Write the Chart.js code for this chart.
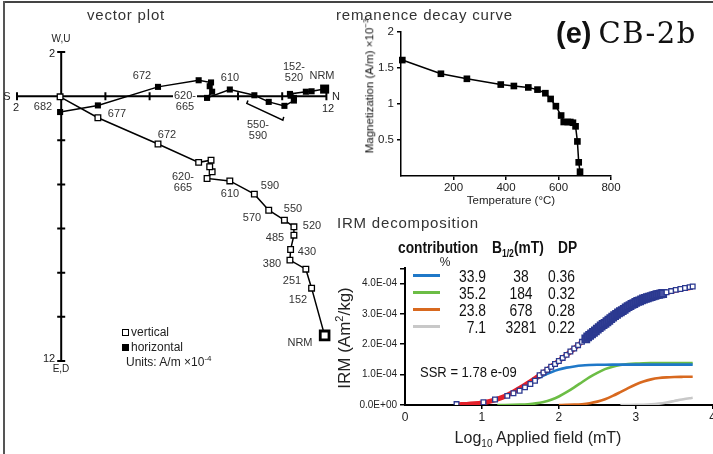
<!DOCTYPE html>
<html lang="en">
<head>
<meta charset="UTF-8">
<title>CB-2b - vector plot, remanence decay, IRM decomposition</title>
<script src="https://cdn.jsdelivr.net/npm/chart.js"></script>
<style>
    body {
        margin: 0;
        width: 713px;
        height: 454px;
        overflow: hidden;
        position: relative;
        background: #fff;
        font-family: 'Liberation Sans', Arial, sans-serif;
        color: #222;
    }
    sub, sup { line-height: 0; }
    .frame-top { position: absolute; left: 3px; top: 1px; width: 720px; height: 2px; background: #444; }
    .frame-left { position: absolute; left: 3px; top: 1px; width: 2px; height: 460px; background: #555; }
    canvas { position: absolute; }
    .t { position: absolute; white-space: nowrap; line-height: 1; transform: translate(-50%, -50%); }
    .title { position: absolute; font-size: 15px; letter-spacing: 0.8px; color: #333; white-space: nowrap; line-height: 1; transform: translateY(-50%); }
    .vl { font-size: 11px; color: #333; text-align: center; line-height: 11px; }
    .ax { font-size: 11px; color: #222; }
    .bg { background: #fff; padding: 0 1px; }
    .leg { position: absolute; font-size: 12px; color: #222; white-space: nowrap; line-height: 1; transform: translateY(-50%); }
    .sq { display: inline-block; width: 5px; height: 5px; border: 1.3px solid #000; vertical-align: middle; margin-right: 2px; }
    /* condensed text for the IRM table: squeeze horizontally */
    .row { position: absolute; font-size: 16.5px; color: #111; line-height: 1; white-space: nowrap;
           transform: translateY(-50%) scaleX(0.84); transform-origin: left center; }
    .row.r { transform-origin: right center; text-align: right; }
    .row.c { transform-origin: center center; text-align: center; }
    .hd { font-weight: bold; font-size: 16px; transform: translateY(-50%) scaleX(0.86); }
    .swatch { position: absolute; width: 27px; height: 3px; }
</style>
</head>
<body>
<div class="frame-top"></div>
<div class="frame-left"></div>

<canvas id="vector" width="345" height="380" style="left:0;top:0"></canvas>
<canvas id="decay" width="300" height="210" style="left:330px;top:0"></canvas>
<canvas id="irm" width="400" height="225" style="left:330px;top:200px"></canvas>

<!-- panel titles -->
<div class="title" style="left:87px;top:14px">vector plot</div>
<div class="title" style="left:336px;top:14px">remanence decay curve</div>
<div class="title" style="left:337px;top:222px">IRM decomposition</div>
<div style="position:absolute;left:556px;top:33px;transform:translateY(-50%);white-space:nowrap;line-height:1;color:#111">
    <span style="font-family:'Liberation Sans',Arial,sans-serif;font-weight:bold;font-size:29px">(e)</span><span style="font-family:'DejaVu Serif',serif;font-size:29px;letter-spacing:1.5px;margin-left:7px">CB-2b</span>
</div>

<!-- vector plot axis labels -->
<div class="t ax" style="left:7px;top:96px">S</div>
<div class="t ax" style="left:16px;top:107px">2</div>
<div class="t ax" style="left:336px;top:96px">N</div>
<div class="t ax bg" style="left:328px;top:108px">12</div>
<div class="t ax" style="left:61px;top:39px;font-size:10px">W,U</div>
<div class="t ax" style="left:52px;top:53px">2</div>
<div class="t ax" style="left:49px;top:358px">12</div>
<div class="t ax" style="left:61px;top:369px;font-size:10px">E,D</div>

<!-- vector plot step labels -->
<div class="t vl" style="left:43px;top:106px">682</div>
<div class="t vl" style="left:117px;top:113px">677</div>
<div class="t vl" style="left:142px;top:75px">672</div>
<div class="t vl" style="left:167px;top:134px">672</div>
<div class="t vl" style="left:230px;top:77px">610</div>
<div class="t vl bg" style="left:185px;top:101px">620-<br>665</div>
<div class="t vl" style="left:294px;top:72px">152-<br>520</div>
<div class="t vl" style="left:322px;top:75px">NRM</div>
<div class="t vl" style="left:258px;top:130px">550-<br>590</div>
<div class="t vl" style="left:183px;top:182px">620-<br>665</div>
<div class="t vl" style="left:230px;top:193px">610</div>
<div class="t vl" style="left:270px;top:185px">590</div>
<div class="t vl" style="left:252px;top:217px">570</div>
<div class="t vl" style="left:293px;top:208px">550</div>
<div class="t vl" style="left:312px;top:225px">520</div>
<div class="t vl" style="left:275px;top:237px">485</div>
<div class="t vl" style="left:307px;top:251px">430</div>
<div class="t vl" style="left:272px;top:263px">380</div>
<div class="t vl" style="left:292px;top:280px">251</div>
<div class="t vl" style="left:298px;top:299px">152</div>
<div class="t vl" style="left:300px;top:342px">NRM</div>

<!-- vector plot legend -->
<div class="leg" style="left:122px;top:332px"><span class="sq" style="background:#fff"></span>vertical</div>
<div class="leg" style="left:122px;top:347px"><span class="sq" style="background:#000"></span>horizontal</div>
<div class="leg" style="left:126px;top:362px">Units: A/m ×10<sup style="font-size:8px">-4</sup></div>

<!-- remanence decay axis titles -->
<div class="t" style="left:370px;top:86px;font-size:11.5px;color:#111;transform:translate(-50%,-50%) rotate(-90deg)">Magnetization (A/m) ×10<sup style="font-size:8px">−3</sup></div>
<div class="t" style="left:511px;top:201px;font-size:11.5px">Temperature (°C)</div>

<!-- IRM legend / header -->
<div class="row hd" style="left:398px;top:248px">contribution</div>
<div class="row hd" style="left:492px;top:248px">B<sub style="font-size:10px">1/2</sub>(mT)</div>
<div class="row hd" style="left:558px;top:248px">DP</div>
<div class="t" style="left:445px;top:262px;font-size:12px">%</div>

<div class="swatch" style="left:413px;top:274px;background:#1f78c8"></div>
<div class="swatch" style="left:413px;top:291px;background:#6cbd45"></div>
<div class="swatch" style="left:413px;top:308px;background:#d8691f"></div>
<div class="swatch" style="left:413px;top:325px;background:#c8c8c8"></div>

<div class="row r" style="left:436px;top:276px;width:50px">33.9</div>
<div class="row r" style="left:436px;top:293px;width:50px">35.2</div>
<div class="row r" style="left:436px;top:310px;width:50px">23.8</div>
<div class="row r" style="left:436px;top:327px;width:50px">7.1</div>
<div class="row c" style="left:496px;top:276px;width:50px">38</div>
<div class="row c" style="left:496px;top:293px;width:50px">184</div>
<div class="row c" style="left:496px;top:310px;width:50px">678</div>
<div class="row c" style="left:496px;top:327px;width:50px">3281</div>
<div class="row" style="left:548px;top:276px">0.36</div>
<div class="row" style="left:548px;top:293px">0.32</div>
<div class="row" style="left:548px;top:310px">0.28</div>
<div class="row" style="left:548px;top:327px">0.22</div>

<div class="row" style="left:420px;top:372px;font-size:15.5px">SSR = 1.78 e-09</div>

<!-- IRM axis titles -->
<div class="t" style="left:344px;top:338px;font-size:17px;transform:translate(-50%,-50%) rotate(-90deg)">IRM (Am<sup style="font-size:11px">2</sup>/kg)</div>
<div class="t" style="left:538px;top:438px;font-size:16px">Log<sub style="font-size:10px">10</sub> Applied field (mT)</div>

<script>
    // ---------- vector plot (A/m x1e-4), one entry per demag step ----------
    const stepNames = ['NRM', '152', '251', '380', '430', '485', '520', '550', '570', '590',
                       '610', '620', '635', '645', '655', '665', '672', '677', '682'];
    const northComp = [11.92, 11.33, 11.07, 10.35, 10.38, 10.53, 10.53, 10.10, 9.39, 8.74,
                       7.63, 6.60, 6.83, 6.72, 6.78, 6.22, 4.38, 1.66, -0.05];
    const horizComp = [0.32, 0.22, 0.20, 0.10, 0.02, -0.08, -0.20, -0.44, -0.26, 0.04,
                       0.30, -0.08, 0.20, 0.45, 0.62, 0.72, 0.42, -0.42, -0.72];
    const vertComp  = [-10.84, -8.70, -7.84, -7.43, -6.95, -6.30, -5.92, -5.62, -5.17, -4.44,
                       -3.84, -3.73, -3.43, -3.20, -2.90, -3.00, -2.17, -0.98, -0.03];
    const hAxisTicks = [-2, 2, 4, 6, 8, 10, 12];
    const vAxisTicks = [2, -2, -4, -6, -8, -10, -12];

    // ---------- remanence decay (A/m x1e-3) ----------
    const demagTemps = [5, 152, 251, 380, 430, 485, 520, 550, 570, 590,
                        610, 620, 635, 645, 655, 665, 672, 677, 682];
    const magnetization = [1.61, 1.42, 1.35, 1.27, 1.25, 1.23, 1.20, 1.15, 1.07, 0.97,
                           0.84, 0.75, 0.75, 0.75, 0.74, 0.69, 0.48, 0.19, 0.06];

    // ---------- IRM acquisition (Am2/kg x1e-4) ----------
    const irmField = [0.67, 1.02, 1.17, 1.33, 1.41, 1.49, 1.56, 1.63, 1.69,
        1.75, 1.80, 1.85, 1.90, 1.95, 2.00, 2.05, 2.10, 2.15, 2.20, 2.25, 2.30, 2.35,
        2.375, 2.40, 2.425, 2.45, 2.475, 2.50, 2.525, 2.55, 2.575, 2.60, 2.625, 2.65, 2.675, 2.70,
        2.725, 2.75, 2.775, 2.80, 2.825, 2.85, 2.875, 2.90, 2.925, 2.95, 2.975, 3.00, 3.025, 3.05,
        3.075, 3.10, 3.125, 3.15, 3.175, 3.20, 3.225, 3.25, 3.275, 3.30, 3.325, 3.35,
        3.40, 3.46, 3.52, 3.58, 3.64, 3.70, 3.74];
    const irmMeasured = [0.03, 0.09, 0.18, 0.30, 0.385, 0.47, 0.58, 0.69, 0.80,
        0.98, 1.07, 1.16, 1.26, 1.35, 1.45, 1.55, 1.65, 1.76, 1.86, 1.97, 2.08, 2.18,
        2.24, 2.29, 2.34, 2.39, 2.44, 2.50, 2.55, 2.60, 2.65, 2.69, 2.74, 2.79, 2.84, 2.89,
        2.94, 2.98, 3.03, 3.07, 3.11, 3.15, 3.20, 3.24, 3.27, 3.31, 3.34, 3.38, 3.41, 3.43,
        3.46, 3.49, 3.51, 3.53, 3.55, 3.57, 3.59, 3.61, 3.63, 3.64, 3.66, 3.67,
        3.71, 3.75, 3.79, 3.82, 3.85, 3.88, 3.90];

    const fitField = [0.7, 0.8, 0.9, 1.0, 1.1, 1.2, 1.3, 1.4, 1.5, 1.6, 1.7, 1.8, 1.9, 2.0, 2.1, 2.2,
                      2.3, 2.4, 2.5, 2.6, 2.7, 2.8, 2.9, 3.0, 3.1, 3.2, 3.3, 3.4, 3.5, 3.6, 3.7, 3.74];
    const fitTotal = [0.01, 0.02, 0.04, 0.07, 0.12, 0.195, 0.29, 0.415, 0.56, 0.72, 0.89, 1.07, 1.26, 1.45, 1.65, 1.86,
                      2.08, 2.29, 2.50, 2.69, 2.89, 3.07, 3.24, 3.38, 3.49, 3.57, 3.64, 3.70, 3.76, 3.82, 3.86, 3.88];
    const comp1 = [0.01, 0.02, 0.04, 0.07, 0.12, 0.19, 0.29, 0.41, 0.55, 0.69, 0.84, 0.97, 1.08, 1.17, 1.23, 1.27,
                   1.30, 1.315, 1.323, 1.327, 1.329, 1.33, 1.33, 1.33, 1.33, 1.33, 1.33, 1.33, 1.33, 1.33, 1.33, 1.33];
    const comp2 = [null, null, null, null, null, 0.001, 0.002, 0.005, 0.012, 0.026, 0.053, 0.10, 0.175, 0.28, 0.42, 0.58,
                   0.75, 0.92, 1.06, 1.18, 1.26, 1.315, 1.347, 1.365, 1.374, 1.378, 1.38, 1.38, 1.38, 1.38, 1.38, 1.38];
    const comp3 = [null, null, null, null, null, null, null, null, null, null, null, null, null, 0.001, 0.004, 0.011,
                   0.027, 0.058, 0.111, 0.191, 0.299, 0.425, 0.557, 0.677, 0.774, 0.843, 0.887, 0.91, 0.922, 0.927, 0.93, 0.93];
    const comp4 = [null, null, null, null, null, null, null, null, null, null, null, null, null, null, null, null,
                   null, null, null, null, null, 0, 0.001, 0.003, 0.008, 0.021, 0.046, 0.084, 0.132, 0.182, 0.224, 0.237];
    const compColors = ['#1f78c8', '#6cbd45', '#d8691f', '#c8c8c8'];

    const pairs = (xs, ys) => xs.map((x, i) => ({ x: x, y: ys[i] })).filter(p => p.y !== null);

    // axes through the origin + bracket, drawn with the chart's own scales
    const crossAxes = {
        id: 'crossAxes',
        beforeDatasetsDraw(chart) {
            const { ctx, scales: { x, y } } = chart;
            const x0 = x.getPixelForValue(0), y0 = y.getPixelForValue(0);
            ctx.save();
            ctx.strokeStyle = '#000';
            ctx.lineWidth = 2;
            ctx.beginPath();
            ctx.moveTo(x.getPixelForValue(hAxisTicks[0]), y0);
            ctx.lineTo(x.getPixelForValue(hAxisTicks[hAxisTicks.length - 1]), y0);
            ctx.moveTo(x0, y.getPixelForValue(vAxisTicks[0]));
            ctx.lineTo(x0, y.getPixelForValue(vAxisTicks[vAxisTicks.length - 1]));
            hAxisTicks.forEach(v => {
                const px = x.getPixelForValue(v);
                ctx.moveTo(px, y0 - 4); ctx.lineTo(px, y0 + 4);
            });
            vAxisTicks.forEach(v => {
                const py = y.getPixelForValue(v);
                ctx.moveTo(x0 - 4, py); ctx.lineTo(x0 + 4, py);
            });
            ctx.stroke();

            // bracket under the 550-590 horizontal steps
            ctx.lineWidth = 1.5;
            ctx.beginPath();
            ctx.moveTo(x.getPixelForValue(8.45), y.getPixelForValue(-0.2));
            ctx.lineTo(x.getPixelForValue(8.40), y.getPixelForValue(-0.33));
            ctx.lineTo(x.getPixelForValue(10.03), y.getPixelForValue(-1.09));
            ctx.lineTo(x.getPixelForValue(10.07), y.getPixelForValue(-0.94));
            ctx.stroke();
            ctx.restore();
        }
    };

    new Chart(document.getElementById('vector'), {
        type: 'scatter',
        data: {
            labels: stepNames,
            datasets: [{
                label: 'horizontal',
                data: pairs(northComp, horizComp),
                showLine: true,
                borderColor: '#000',
                borderWidth: 1.5,
                pointStyle: 'rect',
                pointRadius: c => c.dataIndex === 0 ? 6.4 : 4.3,
                pointBackgroundColor: '#000',
                pointBorderColor: '#000',
                pointBorderWidth: 0,
                clip: false
            }, {
                label: 'vertical',
                data: pairs(northComp, vertComp),
                showLine: true,
                borderColor: '#000',
                borderWidth: 1.5,
                pointStyle: 'rect',
                pointRadius: c => c.dataIndex === 0 ? 6.2 : 4,
                pointBackgroundColor: '#fff',
                pointBorderColor: '#000',
                pointBorderWidth: c => c.dataIndex === 0 ? 2.8 : 1.3,
                clip: false
            }]
        },
        options: {
            responsive: false,
            animation: false,
            layout: { padding: { left: 17, right: 18.6, top: 52, bottom: 19 } },
            plugins: { legend: { display: false }, tooltip: { enabled: false } },
            scales: {
                x: { type: 'linear', min: -2, max: 12, display: false },
                y: { type: 'linear', min: -12, max: 2, display: false }
            }
        },
        plugins: [crossAxes]
    });

    // remanence decay curve
    new Chart(document.getElementById('decay'), {
        type: 'scatter',
        data: {
            datasets: [{
                data: pairs(demagTemps, magnetization),
                showLine: true,
                borderColor: '#000',
                borderWidth: 1.5,
                pointStyle: 'rect',
                pointRadius: 4.7,
                pointBackgroundColor: '#000',
                pointBorderWidth: 0,
                clip: false
            }]
        },
        options: {
            responsive: false,
            animation: false,
            layout: { padding: { left: 0, right: 19, top: 32, bottom: 0 } },
            plugins: { legend: { display: false }, tooltip: { enabled: false } },
            scales: {
                x: {
                    type: 'linear', min: 0, max: 800,
                    afterFit: s => { s.height = 34; },
                    ticks: { stepSize: 200, color: '#222', font: { size: 11.5 }, padding: 1,
                             callback: v => v === 0 ? '' : v },
                    grid: { drawOnChartArea: false, tickLength: 4, lineWidth: 1.5,
                            color: c => c.tick && c.tick.value === 0 ? 'rgba(0,0,0,0)' : '#000' },
                    border: { color: '#000', width: 1.5 }
                },
                y: {
                    type: 'linear', min: 0, max: 2,
                    afterFit: s => { s.width = 71; },
                    ticks: { stepSize: 0.5, color: '#222', font: { size: 11.5 }, padding: 3,
                             callback: v => v === 0 ? '' : v },
                    grid: { drawOnChartArea: false, tickLength: 4, lineWidth: 1.5,
                            color: c => c.tick && c.tick.value === 0 ? 'rgba(0,0,0,0)' : '#000' },
                    border: { color: '#000', width: 1.5 }
                }
            }
        }
    });

    // IRM decomposition
    const irmLabel = v => v === 0 ? '0.0E+00' : (Number.isInteger(v) ? v.toFixed(1) + 'E-04' : '');
    const inDenseBand = c => c.raw && c.raw.x > 2.3 && c.raw.x < 3.37;
    const compSet = (vals, color) => ({
        data: pairs(fitField, vals),
        showLine: true,
        borderColor: color,
        borderWidth: 2.6,
        pointRadius: 0,
        cubicInterpolationMode: 'monotone'
    });
    new Chart(document.getElementById('irm'), {
        type: 'scatter',
        data: {
            datasets: [{
                label: 'measured',
                data: pairs(irmField, irmMeasured),
                showLine: false,
                pointStyle: 'rect',
                pointRadius: c => inDenseBand(c) ? 4.8 : 3.3,
                pointBackgroundColor: c => inDenseBand(c) ? '#4a54a6' : '#fff',
                pointBorderColor: '#2b3990',
                pointBorderWidth: c => inDenseBand(c) ? 2 : 1.3
            }, {
                label: 'fit',
                data: pairs(fitField, fitTotal),
                showLine: true,
                borderColor: '#e3202a',
                borderWidth: 5,
                pointRadius: 0,
                cubicInterpolationMode: 'monotone'
            },
                compSet(comp1, compColors[0]),
                compSet(comp2, compColors[1]),
                compSet(comp3, compColors[2]),
                compSet(comp4, compColors[3])
            ]
        },
        options: {
            responsive: false,
            animation: false,
            layout: { padding: { left: 0, right: 17.3, top: 68.3, bottom: 0 } },
            plugins: { legend: { display: false }, tooltip: { enabled: false } },
            scales: {
                x: {
                    type: 'linear', min: 0, max: 4,
                    afterFit: s => { s.height = 20; },
                    ticks: { stepSize: 1, color: '#222', font: { size: 12 }, padding: 1 },
                    grid: { drawOnChartArea: false, tickLength: 4, lineWidth: 1.5,
                            color: c => c.tick && c.tick.value === 0 ? 'rgba(0,0,0,0)' : '#000' },
                    border: { color: '#000', width: 2 }
                },
                y: {
                    type: 'linear', min: 0, max: 4.5,
                    afterFit: s => { s.width = 75; },
                    ticks: { stepSize: 1, color: '#222', font: { size: 10 }, padding: 3, callback: irmLabel },
                    grid: { drawOnChartArea: false, tickLength: 5, lineWidth: 1.5, color: '#000' },
                    border: { color: '#000', width: 2 }
                }
            }
        }
    });
</script>
</body>
</html>
